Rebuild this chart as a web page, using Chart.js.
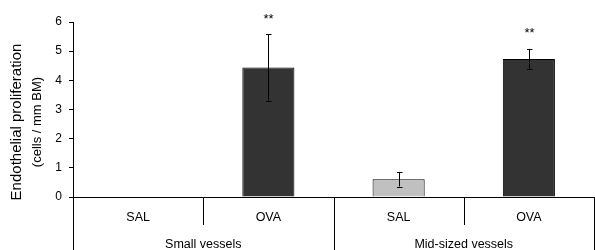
<!DOCTYPE html>
<html>
<head>
<meta charset="utf-8">
<script src="https://cdn.jsdelivr.net/npm/chart.js@4.4.0/dist/chart.umd.min.js"></script>
<style>
  html, body { margin: 0; padding: 0; background: #fff; }
  #wrap { width: 595px; height: 250px; }
</style>
</head>
<body>
<div id="wrap"><canvas id="c" width="595" height="250"></canvas></div>
<script>
const categories = ['SAL', 'OVA', 'SAL', 'OVA'];
const groups = ['Small vessels', 'Mid-sized vessels'];
const means = [0, 4.44, 0.61, 4.73];
const errors = [0, 1.14, 0.25, 0.35];
const stars = ['', '**', '', '**'];
const yTicks = [0, 1, 2, 3, 4, 5, 6];

const FONT = "'Liberation Sans', Arial, sans-serif";
const barColors = categories.map(c => c === 'SAL' ? '#c0c0c0' : '#333333');

// error bars + significance stars
const errorBars = {
  id: 'errorBars',
  afterDatasetsDraw(chart) {
    const ctx = chart.ctx;
    const y = chart.scales.y;
    const meta = chart.getDatasetMeta(0);
    ctx.save();
    ctx.strokeStyle = '#000';
    ctx.lineWidth = 1;
    means.forEach((m, i) => {
      const x = Math.round(meta.data[i].x) + 0.5;
      const top = y.getPixelForValue(m + errors[i]);
      if (errors[i] > 0) {
        const bot = y.getPixelForValue(m - errors[i]);
        ctx.beginPath();
        ctx.moveTo(x, top); ctx.lineTo(x, bot);
        ctx.moveTo(x - 2.5, Math.round(top) + 0.5); ctx.lineTo(x + 3, Math.round(top) + 0.5);
        ctx.moveTo(x - 2.5, Math.round(bot) + 0.5); ctx.lineTo(x + 3, Math.round(bot) + 0.5);
        ctx.stroke();
      }
      if (stars[i]) {
        ctx.fillStyle = '#000';
        ctx.font = '13px ' + FONT;
        ctx.textAlign = 'center';
        ctx.textBaseline = 'middle';
        ctx.fillText(stars[i], x, top - 15);
      }
    });
    ctx.restore();
  }
};

// category table lines under the axis + y title
const tableLines = {
  id: 'tableLines',
  afterDraw(chart) {
    const ctx = chart.ctx;
    const xs = chart.scales.x;
    const w = xs.width / categories.length;
    ctx.save();
    ctx.strokeStyle = '#000';
    ctx.lineWidth = 1;
    for (let i = 0; i <= categories.length; i++) {
      const x = Math.round(xs.left + i * w) + 0.5;
      ctx.beginPath();
      ctx.moveTo(x, xs.top);
      ctx.lineTo(x, i % 2 === 0 ? chart.height : xs.bottom);
      ctx.stroke();
    }
    // y axis title, two lines
    ctx.fillStyle = '#000';
    ctx.textAlign = 'center';
    ctx.textBaseline = 'middle';
    ctx.translate(17, 122);
    ctx.rotate(-Math.PI / 2);
    ctx.font = '15px ' + FONT;
    ctx.fillText('Endothelial proliferation', 0, 0);
    ctx.font = '13px ' + FONT;
    ctx.fillText('(cells / mm BM)', 0, 20);
    ctx.restore();
  }
};

new Chart(document.getElementById('c'), {
  type: 'bar',
  data: {
    labels: categories,
    datasets: [{
      data: means,
      backgroundColor: barColors,
      borderColor: '#000',
      borderWidth: 1,
      barPercentage: 0.4,
      categoryPercentage: 1
    }]
  },
  options: {
    responsive: false,
    animation: false,
    devicePixelRatio: 1,
    layout: { padding: { top: 22, right: 1, left: 0, bottom: 0 } },
    plugins: { legend: { display: false }, tooltip: { enabled: false } },
    scales: {
      y: {
        min: 0, max: 6,
        afterBuildTicks: s => { s.ticks = yTicks.map(v => ({ value: v })); },
        afterFit: s => { s.width = 73; },
        ticks: { color: '#000', font: { family: FONT, size: 12 }, padding: 7 },
        grid: { drawOnChartArea: false, drawTicks: true, tickLength: 4, color: '#000' },
        border: { display: true, color: '#000' }
      },
      x: {
        type: 'category',
        afterFit: s => { s.height = 28; },
        ticks: { color: '#000', font: { family: FONT, size: 12.5 }, padding: 13 },
        grid: { display: false, drawTicks: false },
        border: { display: true, color: '#000' }
      },
      x2: {
        type: 'category',
        position: 'bottom',
        labels: groups,
        offset: true,
        afterFit: s => { s.height = 25; },
        ticks: { color: '#000', font: { family: FONT, size: 12.5 }, padding: 12 },
        grid: { display: false, drawTicks: false },
        border: { display: false }
      }
    }
  },
  plugins: [errorBars, tableLines]
});
</script>
</body>
</html>
